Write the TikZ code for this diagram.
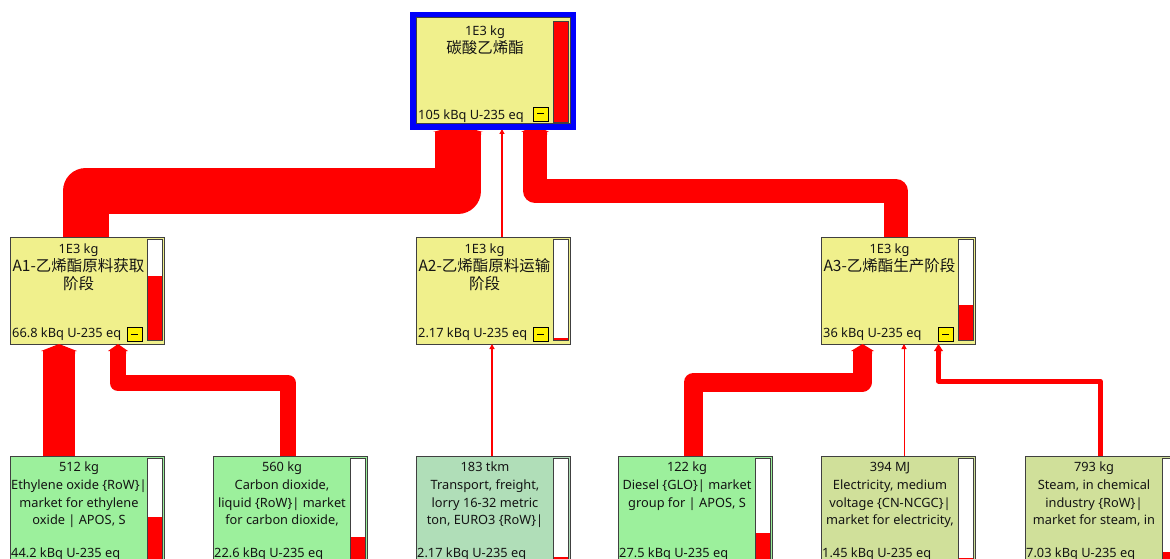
\documentclass[tikz,border=0pt]{standalone}
\usepackage{fontspec}
\setmainfont{Noto Sans}
\newfontfamily\cjk{Noto Sans CJK SC}
\usetikzlibrary{calc,arrows.meta}
\definecolor{procyellow}{RGB}{240,240,140}
\definecolor{leafgreen}{RGB}{156,240,156}
\definecolor{transgreen}{RGB}{176,222,184}
\definecolor{olivegreen}{RGB}{208,224,154}
\definecolor{boxborder}{RGB}{64,64,64}
\definecolor{flowred}{RGB}{255,0,0}
\definecolor{txt}{RGB}{20,20,20}
\definecolor{selblue}{RGB}{0,0,250}
\newcommand\mybar[2]{%
  \draw[draw=boxborder, fill=white, line width=0.8pt] ($(#1.north west)+(137,2)$) rectangle ($(#1.north west)+(152,103)$);
  \fill[flowred] ($(#1.north west)+(137.5,#2)$) rectangle ($(#1.north west)+(151.5,102.6)$);}
\newcommand\myminus[2]{%
  \draw[draw=black, fill=yellow, line width=0.8pt] ($(#1.north west)+(117,#2)$) rectangle ++(15,14);
  \draw[black, line width=1pt] ($(#1.north west)+(121,#2+7)$) -- ++(7,0);}
\tikzset{
  pics/fhead/.style={code={%
    \fill[flowred] ({-#1/2-2},7) -- (0,0) -- ({#1/2+2},7) -- ({#1/2},7) -- ({#1/2},10) -- ({-#1/2},10) -- ({-#1/2},7) -- cycle;}},
  box/.style={draw=boxborder, line width=1pt, anchor=north west, minimum width=154pt, minimum height=107pt, inner sep=0pt, outer sep=0pt},
  lbl/.style={anchor=base, inner sep=0pt, font=\fontsize{12.8}{14}\selectfont, text=txt},
  cjklbl/.style={anchor=base, inner sep=0pt, font=\cjk\fontsize{15.5}{17}\selectfont, text=txt},
  val/.style={anchor=base west, inner sep=0pt, font=\fontsize{12.8}{14}\selectfont, text=txt},
  flow/.style={draw=flowred, line join=round},
  thinflow/.style={draw=flowred, -{Triangle[length=5pt,width=5pt]}},
}
\begin{document}
\begin{tikzpicture}[x=1pt,y=-1pt]
\useasboundingbox (0,0) rectangle (1170,559);
\clip (0,0) rectangle (1170,559);
\fill[white] (0,0) rectangle (1170,559);

% ---------- top node
\node[box, fill=procyellow, minimum height=106pt] (top) at (416,18) {};
\draw[draw=boxborder, fill=flowred, line width=0.8pt] ($(top.north west)+(137,3)$) rectangle ($(top.north west)+(152,104)$);
\myminus{top}{89}
\node[lbl] (toptxt1) at ($(top.north west)+(69,17.5)$) {1E3 kg};
\node[cjklbl] (toptxt2) at ($(top.north west)+(69,36)$) {碳酸乙烯酯};
\node[val] (topval) at ($(top.north west)+(2,101.5)$) {105 kBq U-235 eq};

% ---------- middle nodes
\node[box, fill=procyellow] (a1) at (10,237) {};
\mybar{a1}{38.7}
\myminus{a1}{90}
\node[lbl] (a1t1) at ($(a1.north west)+(68.5,16.5)$) {1E3 kg};
\node[cjklbl] (a1t2) at ($(a1.north west)+(68.5,34)$) {A1-乙烯酯原料获取};
\node[cjklbl] (a1t3) at ($(a1.north west)+(68.5,52)$) {阶段};
\node[val] (a1val) at ($(a1.north west)+(2,100.5)$) {66.8 kBq U-235 eq};

\node[box, fill=procyellow] (a2) at (416,237) {};
\mybar{a2}{100.9}
\myminus{a2}{90}
\node[lbl] (a2t1) at ($(a2.north west)+(68.5,16.5)$) {1E3 kg};
\node[cjklbl] (a2t2) at ($(a2.north west)+(68.5,34)$) {A2-乙烯酯原料运输};
\node[cjklbl] (a2t3) at ($(a2.north west)+(68.5,52)$) {阶段};
\node[val] (a2val) at ($(a2.north west)+(2,100.5)$) {2.17 kBq U-235 eq};

\node[box, fill=procyellow] (a3) at (821,237) {};
\mybar{a3}{68.4}
\myminus{a3}{90}
\node[lbl] (a3t1) at ($(a3.north west)+(68.5,16.5)$) {1E3 kg};
\node[cjklbl] (a3t2) at ($(a3.north west)+(68.5,34)$) {A3-乙烯酯生产阶段};
\node[val] (a3val) at ($(a3.north west)+(2,100.5)$) {36 kBq U-235 eq};

% ---------- bottom nodes
\node[box, fill=leafgreen] (eo) at (10,456) {};
\mybar{eo}{60.5}
\node[lbl] (eot1) at ($(eo.north west)+(69,15.5)$) {512 kg};
\node[lbl] (eot2) at ($(eo.north west)+(69,33.5)$) {Ethylene oxide \{RoW\}|};
\node[lbl] (eot3) at ($(eo.north west)+(69,51.5)$) {market for ethylene};
\node[lbl] (eot4) at ($(eo.north west)+(69,68.5)$) {oxide | APOS, S};
\node[val] (eoval) at ($(eo.north west)+(1,101.5)$) {44.2 kBq U-235 eq};

\node[box, fill=leafgreen] (co) at (213,456) {};
\mybar{co}{81.3}
\node[lbl] (cot1) at ($(co.north west)+(69,15.5)$) {560 kg};
\node[lbl] (cot2) at ($(co.north west)+(69,33.5)$) {Carbon dioxide,};
\node[lbl] (cot3) at ($(co.north west)+(69,51.5)$) {liquid \{RoW\}| market};
\node[lbl] (cot4) at ($(co.north west)+(69,68.5)$) {for carbon dioxide,};
\node[val] (coval) at ($(co.north west)+(1,101.5)$) {22.6 kBq U-235 eq};

\node[box, fill=transgreen] (tr) at (416,456) {};
\mybar{tr}{100.9}
\node[lbl] (trt1) at ($(tr.north west)+(69,15.5)$) {183 tkm};
\node[lbl] (trt2) at ($(tr.north west)+(69,33.5)$) {Transport, freight,};
\node[lbl] (trt3) at ($(tr.north west)+(69,51.5)$) {lorry 16-32 metric};
\node[lbl] (trt4) at ($(tr.north west)+(69,68.5)$) {ton, EURO3 \{RoW\}|};
\node[val] (trval) at ($(tr.north west)+(1,101.5)$) {2.17 kBq U-235 eq};

\node[box, fill=leafgreen] (di) at (618,456) {};
\mybar{di}{76.5}
\node[lbl] (dit1) at ($(di.north west)+(69,15.5)$) {122 kg};
\node[lbl] (dit2) at ($(di.north west)+(69,33.5)$) {Diesel \{GLO\}| market};
\node[lbl] (dit3) at ($(di.north west)+(69,51.5)$) {group for | APOS, S};
\node[val] (dival) at ($(di.north west)+(1,101.5)$) {27.5 kBq U-235 eq};

\node[box, fill=olivegreen] (el) at (821,456) {};
\mybar{el}{101.6}
\node[lbl] (elt1) at ($(el.north west)+(69,15.5)$) {394 MJ};
\node[lbl] (elt2) at ($(el.north west)+(69,33.5)$) {Electricity, medium};
\node[lbl] (elt3) at ($(el.north west)+(69,51.5)$) {voltage \{CN-NCGC\}|};
\node[lbl] (elt4) at ($(el.north west)+(69,68.5)$) {market for electricity,};
\node[val] (elval) at ($(el.north west)+(1,101.5)$) {1.45 kBq U-235 eq};

\node[box, fill=olivegreen] (st) at (1025,456) {};
\mybar{st}{96.2}
\node[lbl] (stt1) at ($(st.north west)+(69,15.5)$) {793 kg};
\node[lbl] (stt2) at ($(st.north west)+(69,33.5)$) {Steam, in chemical};
\node[lbl] (stt3) at ($(st.north west)+(69,51.5)$) {industry \{RoW\}|};
\node[lbl] (stt4) at ($(st.north west)+(69,68.5)$) {market for steam, in};
\node[val] (stval) at ($(st.north west)+(1,101.5)$) {7.03 kBq U-235 eq};

% ---------- flows into top node
\draw[flow, line width=46pt] ($(a1.north west)+(75.5,0)$) |- ($(top.south west)+(42,67)$) -- ($(top.south west)+(42,9)$);
\pic at ($(top.south west)+(42,1)$) {fhead=46};
\draw[flow, line width=24pt] ($(a3.north west)+(75,0)$) |- ($(top.south west)+(119,67)$) -- ($(top.south west)+(119,9)$);
\pic at ($(top.south west)+(119,1)$) {fhead=24};
\draw[thinflow, line width=1.4pt] ($(a2.north west)+(86,0)$) -- ($(top.south west)+(86,5)$);

% selection frame of the top node, drawn over the arrow tips
\draw[selblue, line width=6pt] ($(top.north west)+(-3,-3)$) rectangle ($(top.south east)+(3,3)$);
\draw[boxborder, line width=1pt] (top.north west) rectangle (top.south east);

% ---------- flows into A1
\draw[flow, line width=32pt] ($(eo.north west)+(49,0)$) -- ($(a1.south west)+(49,8)$);
\pic at ($(a1.south west)+(49,0)$) {fhead=32};
\draw[flow, line width=16pt] ($(co.north west)+(75,0)$) |- ($(a1.south west)+(108,39)$) -- ($(a1.south west)+(108,8)$);
\pic at ($(a1.south west)+(108,0)$) {fhead=16};

% ---------- flow into A2
\draw[thinflow, line width=1.4pt] ($(tr.north west)+(76,0)$) -- ($(a2.south west)+(76,0)$);

% ---------- flows into A3
\draw[flow, line width=19pt] ($(di.north west)+(75.5,0)$) |- ($(a3.south west)+(41.5,38)$) -- ($(a3.south west)+(41.5,8)$);
\pic at ($(a3.south west)+(41.5,0)$) {fhead=19};
\draw[thinflow, line width=1pt] ($(el.north west)+(83,0)$) -- ($(a3.south west)+(83,0)$);
\draw[flow, line width=5pt] ($(st.north west)+(75,0)$) |- ($(a3.south west)+(117.5,37)$) -- ($(a3.south west)+(117.5,8)$);
\pic at ($(a3.south west)+(117.5,0)$) {fhead=5};
\end{tikzpicture}
\end{document}
